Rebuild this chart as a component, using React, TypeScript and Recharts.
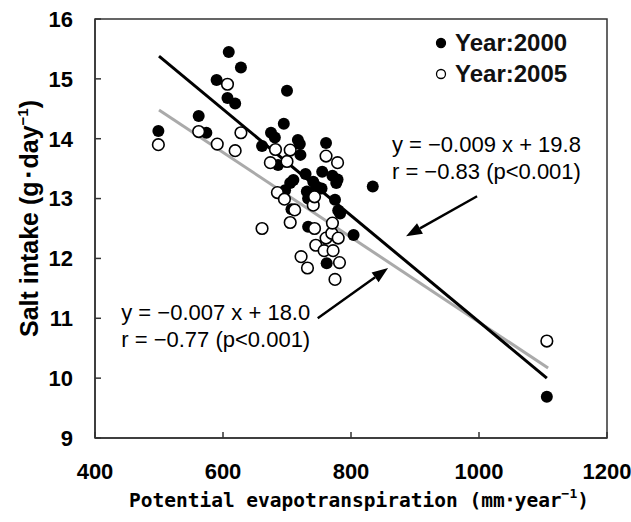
import React from 'react';
import {
  ScatterChart,
  Scatter,
  XAxis,
  YAxis,
  ReferenceLine,
  ReferenceArea,
  ReferenceDot,
  Legend,
  Label,
} from 'recharts';

// salt intake vs potential evapotranspiration, by prefecture
const year2000 = [
  { x: 499, y: 14.13 }, { x: 562, y: 14.38 }, { x: 574, y: 14.1 }, { x: 590, y: 14.98 },
  { x: 607, y: 14.68 }, { x: 609, y: 15.45 }, { x: 619, y: 14.59 }, { x: 628, y: 15.19 },
  { x: 661, y: 13.88 }, { x: 675, y: 14.1 }, { x: 681, y: 14.02 }, { x: 686, y: 13.56 },
  { x: 695, y: 14.25 }, { x: 697, y: 13.14 }, { x: 700, y: 14.8 }, { x: 705, y: 13.26 },
  { x: 707, y: 12.82 }, { x: 710, y: 13.31 }, { x: 717, y: 13.98 }, { x: 720, y: 13.91 },
  { x: 721, y: 13.73 }, { x: 729, y: 13.41 }, { x: 731, y: 13.12 }, { x: 733, y: 13.0 },
  { x: 733, y: 12.53 }, { x: 741, y: 13.28 }, { x: 746, y: 13.2 }, { x: 754, y: 13.17 },
  { x: 755, y: 13.45 }, { x: 761, y: 13.93 }, { x: 762, y: 11.92 }, { x: 771, y: 13.38 },
  { x: 775, y: 12.98 }, { x: 777, y: 13.26 }, { x: 779, y: 13.32 }, { x: 780, y: 12.8 },
  { x: 783, y: 12.75 }, { x: 804, y: 12.39 }, { x: 834, y: 13.2 }, { x: 1106, y: 9.69 },
];

const year2005 = [
  { x: 499, y: 13.9 }, { x: 562, y: 14.12 }, { x: 591, y: 13.91 }, { x: 607, y: 14.91 },
  { x: 619, y: 13.8 }, { x: 628, y: 14.1 }, { x: 661, y: 12.5 }, { x: 674, y: 13.6 },
  { x: 682, y: 13.82 }, { x: 685, y: 13.1 }, { x: 696, y: 12.99 }, { x: 700, y: 13.62 },
  { x: 705, y: 13.81 }, { x: 705, y: 12.6 }, { x: 712, y: 12.81 }, { x: 722, y: 12.03 },
  { x: 732, y: 11.84 }, { x: 741, y: 12.89 }, { x: 743, y: 13.03 }, { x: 743, y: 12.5 },
  { x: 745, y: 12.22 }, { x: 758, y: 12.13 }, { x: 761, y: 12.34 }, { x: 761, y: 13.71 },
  { x: 770, y: 12.42 }, { x: 771, y: 12.59 }, { x: 772, y: 12.13 }, { x: 775, y: 11.65 },
  { x: 779, y: 13.6 }, { x: 780, y: 12.34 }, { x: 782, y: 11.93 }, { x: 1106, y: 10.62 },
];

// regression line end points
const fit2000 = [{ x: 500, y: 15.38 }, { x: 1106, y: 10.0 }];
const fit2005 = [{ x: 500, y: 14.48 }, { x: 1108, y: 10.17 }];

const xTicks = [400, 600, 800, 1000, 1200];
const yTicks = [9, 10, 11, 12, 13, 14, 15, 16];

const arrows = [
  { from: { x: 997, y: 13.04 }, to: { x: 886, y: 12.37 } },
  { from: { x: 748, y: 11.0 }, to: { x: 858, y: 11.84 } },
];

const equations = [
  { x: 864, y: 14.05, lines: ['y = \u22120.009 x + 19.8', 'r = \u22120.83 (p<0.001)'] },
  { x: 441, y: 11.24, lines: ['y = \u22120.007 x + 18.0', 'r = \u22120.77 (p<0.001)'] },
];

const legendItems = [
  { label: 'Year:2000', filled: true },
  { label: 'Year:2005', filled: false },
];

const AXIS = '#333';
const FONT = '"Liberation Sans", Arial, sans-serif';

const FilledDot = (p: any) => <circle cx={p.cx} cy={p.cy} r={6} fill="#000" />;
const OpenDot = (p: any) => (
  <circle cx={p.cx} cy={p.cy} r={5.8} fill="#fff" stroke="#000" strokeWidth={1.6} />
);

const Arrow = (p: any) => {
  const { x1, y1, x2, y2 } = p;
  const ang = Math.atan2(y2 - y1, x2 - x1);
  const len = 16;
  const w = 6;
  const bx = x2 - len * Math.cos(ang);
  const by = y2 - len * Math.sin(ang);
  const px = -Math.sin(ang) * w;
  const py = Math.cos(ang) * w;
  return (
    <g>
      <line x1={x1} y1={y1} x2={bx} y2={by} stroke="#000" strokeWidth={2.4} />
      <polygon points={`${x2},${y2} ${bx + px},${by + py} ${bx - px},${by - py}`} fill="#000" />
    </g>
  );
};

const Equation = (lines: string[]) => (p: any) => (
  <text x={p.cx} y={p.cy} fontFamily={FONT} fontSize={22} fill="#000">
    {lines.map((l, i) => (
      <tspan key={i} x={p.cx} dy={i === 0 ? '0.75em' : '1.23em'}>
        {l}
      </tspan>
    ))}
  </text>
);

const YTitle = (p: any) => {
  const vb = p.viewBox;
  const cy = vb.y + vb.height / 2 - 10;
  return (
    <text
      x={38}
      y={cy}
      transform={`rotate(-90 38 ${cy})`}
      textAnchor="middle"
      fontFamily={FONT}
      fontWeight="bold"
      fontSize={25}
      fill="#000"
    >
      Salt intake (g･day<tspan fontSize={15} dy={-10}>−1</tspan>
      <tspan dy={10}>)</tspan>
    </text>
  );
};

const XTitle = (p: any) => {
  const vb = p.viewBox;
  const cx = vb.x + vb.width / 2 + 8;
  return (
    <text
      x={cx}
      y={507}
      textAnchor="middle"
      fontFamily={'"DejaVu Sans Mono", "Liberation Mono", monospace'}
      fontWeight="bold"
      fontSize={19.5}
      fill="#000"
    >
      Potential evapotranspiration (mm･year<tspan fontSize={13} dy={-9}>−1</tspan>
      <tspan dy={9}>)</tspan>
    </text>
  );
};

const LegendBox = () => (
  <div style={{ fontFamily: FONT, fontWeight: 'bold', fontSize: 24, color: '#111', lineHeight: '31px' }}>
    {legendItems.map((it) => (
      <div key={it.label} style={{ display: 'flex', alignItems: 'center' }}>
        <svg width={18} height={14} style={{ marginRight: 5 }}>
          <circle
            cx={9}
            cy={7}
            r={4.5}
            fill={it.filled ? '#000' : '#fff'}
            stroke="#000"
            strokeWidth={1.3}
          />
        </svg>
        {it.label}
      </div>
    ))}
  </div>
);

export default function App() {
  return (
    <div style={{ position: 'absolute', left: 0, top: 0, background: '#fff' }}>
      <ScatterChart width={631} height={522} margin={{ top: 19, right: 24, bottom: 24, left: 35 }}>
        <XAxis
          type="number"
          dataKey="x"
          domain={[400, 1200]}
          ticks={xTicks}
          interval={0}
          height={60}
          tickSize={-6}
          tickMargin={31}
          stroke={AXIS}
          strokeWidth={1.5}
          tick={{ fill: '#000', fontFamily: FONT, fontWeight: 'bold', fontSize: 22 }}
        >
          <Label content={XTitle} />
        </XAxis>
        <YAxis
          type="number"
          dataKey="y"
          domain={[9, 16]}
          ticks={yTicks}
          interval={0}
          width={60}
          tickSize={-6}
          tickMargin={28}
          stroke={AXIS}
          strokeWidth={1.5}
          tick={{ fill: '#000', fontFamily: FONT, fontWeight: 'bold', fontSize: 22 }}
        >
          <Label content={YTitle} />
        </YAxis>
        <ReferenceArea x1={400} x2={1200} y1={9} y2={16} fill="none" stroke={AXIS} strokeWidth={1.5} />
        <ReferenceLine segment={fit2005} stroke="#aaa" strokeWidth={3} ifOverflow="visible" />
        <ReferenceLine segment={fit2000} stroke="#000" strokeWidth={3} ifOverflow="visible" />
        <Scatter data={year2000} shape={FilledDot} isAnimationActive={false} />
        <Scatter data={year2005} shape={OpenDot} isAnimationActive={false} />
        {arrows.map((a, i) => (
          <ReferenceLine key={i} segment={[a.from, a.to]} shape={Arrow} ifOverflow="visible" />
        ))}
        {equations.map((e, i) => (
          <ReferenceDot key={i} x={e.x} y={e.y} r={0} shape={Equation(e.lines)} ifOverflow="visible" />
        ))}
        <Legend
          layout="vertical"
          align="center"
          verticalAlign="middle"
          content={LegendBox}
          wrapperStyle={{ top: 27, left: 432, width: 180 }}
        />
      </ScatterChart>
    </div>
  );
}
